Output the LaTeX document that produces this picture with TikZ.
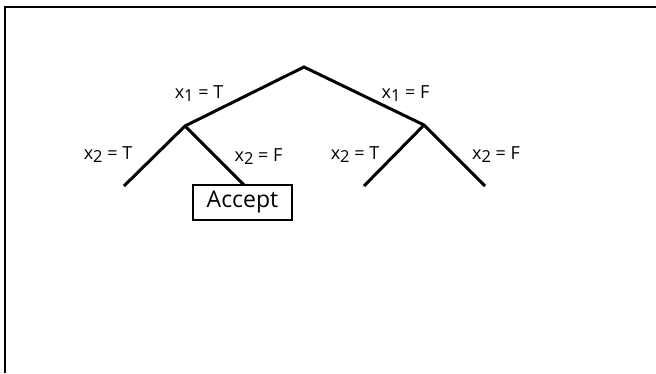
\documentclass[tikz,border=0pt]{standalone}
\usepackage{fontspec}
\setmainfont{Open Sans}
\newcommand{\sub}[1]{\raisebox{-0.35ex}{\fontsize{16.5}{16.5}\selectfont #1}}
\begin{document}
\begin{tikzpicture}[x=1pt,y=-1pt,
  edge/.style={line width=3pt},
  lbl/.style={font=\fontsize{18}{20}\selectfont, inner sep=0pt, anchor=base}]
\useasboundingbox (0,0) rectangle (656,373);
\draw[line width=1.4pt] (5,373) -- (5,7) -- (656,7);
\coordinate (r) at (304,67);
\coordinate (a) at (185,126);
\coordinate (b) at (424,125);
\coordinate (aa) at (124,186);
\coordinate (ba) at (364,186);
\coordinate (bb) at (485,186);
\node[draw, line width=1.2pt, minimum width=99pt, minimum height=35pt, inner sep=0pt,
  font=\fontsize{23}{25}\selectfont] (acc) at (242.5,202.5) {Accept};
\coordinate (ab) at (244,185);
\draw[edge] (aa) -- (a) -- (r) -- (b) -- (bb);
\draw[edge] (a) -- (ab);
\draw[edge] (b) -- (ba);
\node[lbl] (l1) at (199,98) {x\sub{1} = T};
\node[lbl] (l2) at (405.5,98) {x\sub{1} = F};
\node[lbl] (l3) at (108,159) {x\sub{2} = T};
\node[lbl] (l4) at (258.5,161) {x\sub{2} = F};
\node[lbl] (l5) at (355,159) {x\sub{2} = T};
\node[lbl] (l6) at (496,159) {x\sub{2} = F};
\end{tikzpicture}
\end{document}
